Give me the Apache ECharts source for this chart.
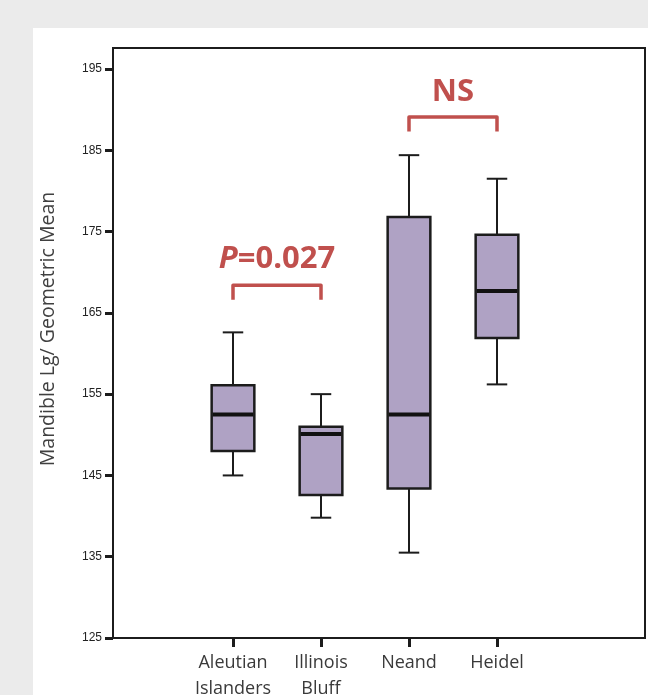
<!DOCTYPE html>
<html>
<head>
<meta charset="utf-8">
<script src="https://cdn.jsdelivr.net/npm/echarts@6/dist/echarts.min.js"></script>
<style>
html,body{margin:0;padding:0;background:#ebebeb;}
#c{width:648px;height:695px;}
</style>
</head>
<body>
<div id="c"></div>
<script>
// ---- data ----
const categories = ['Aleutian\nIslanders', 'Illinois\nBluff', 'Neand', 'Heidel'];
const whiskerLow  = [145.0, 139.8, 135.5, 156.2];
const quartile1   = [148.0, 142.6, 143.4, 161.9];
const medians     = [152.5, 150.1, 152.5, 167.7];
const quartile3   = [156.1, 151.0, 176.8, 174.6];
const whiskerHigh = [162.6, 155.0, 184.4, 181.5];
const yTicks = [125, 135, 145, 155, 165, 175, 185, 195];
const yTitle = 'Mandible Lg/ Geometric Mean';
// comparisons between groups
const compFrom   = [0, 2];
const compTo     = [1, 3];
const compTop    = [168.4, 189.1];
const compBottom = [166.6, 187.3];
const compLabel  = ['{i|P}=0.027', 'NS'];
const compLabelY = [171.6, 192.2];

const boxData = categories.map((c, i) => [i, whiskerLow[i], quartile1[i], medians[i], quartile3[i], whiskerHigh[i]]);

const chart = echarts.init(document.getElementById('c'), null, {renderer: 'canvas'});
const ink = '#1c1c1c';

function renderBox(params, api) {
  const idx = api.value(0);
  const px = v => api.coord([idx, v]);
  const x = px(api.value(3))[0];
  const yLow = px(api.value(1))[1];
  const yQ1 = px(api.value(2))[1];
  const yMed = px(api.value(3))[1];
  const yQ3 = px(api.value(4))[1];
  const yHigh = px(api.value(5))[1];
  const band = api.size([1, 0])[0];
  const bw = band * 0.485;
  const cap = bw * 0.48;
  const ls = {stroke: ink, lineWidth: 2};
  return {
    type: 'group',
    children: [
      {type: 'line', shape: {x1: x, y1: yHigh, x2: x, y2: yQ3}, style: ls},
      {type: 'line', shape: {x1: x, y1: yLow, x2: x, y2: yQ1}, style: ls},
      {type: 'line', shape: {x1: x - cap / 2, y1: yHigh, x2: x + cap / 2, y2: yHigh}, style: ls},
      {type: 'line', shape: {x1: x - cap / 2, y1: yLow, x2: x + cap / 2, y2: yLow}, style: ls},
      {type: 'rect', shape: {x: x - bw / 2, y: yQ3, width: bw, height: yQ1 - yQ3},
        style: {fill: '#afa2c4', stroke: ink, lineWidth: 2.5}},
      {type: 'line', shape: {x1: x - bw / 2 + 1, y1: yMed, x2: x + bw / 2 - 1, y2: yMed},
        style: {stroke: '#111', lineWidth: 4}}
    ]
  };
}

chart.setOption({
  backgroundColor: '#ebebeb',
  animation: false,
  grid: [
    {left: 113, top: 48, right: 3, bottom: 57, show: true, borderColor: ink, borderWidth: 2, backgroundColor: 'transparent', z: 1,
      outerBoundsMode: 'none', containLabel: false},
    {left: 189, right: 107, top: 69, bottom: 57, outerBoundsMode: 'none', containLabel: false}
  ],
  xAxis: [
    {gridIndex: 0, type: 'value', show: false, min: 0, max: 1},
    {gridIndex: 1, type: 'category', data: categories,
      axisLine: {show: false},
      axisTick: {show: true, alignWithLabel: true, length: 9, lineStyle: {color: ink, width: 3}},
      axisLabel: {interval: 0, color: '#3a3a3a', fontFamily: 'Open Sans', fontSize: 18, lineHeight: 26, margin: 12}}
  ],
  yAxis: [
    {gridIndex: 0, type: 'value', show: false, min: 0, max: 1},
    {gridIndex: 1, type: 'value', min: yTicks[0], max: yTicks[yTicks.length - 1], interval: 10,
      offset: 76,
      axisLine: {show: false},
      splitLine: {show: false},
      axisTick: {show: true, length: 8, lineStyle: {color: ink, width: 3}},
      axisLabel: {color: '#222', fontFamily: 'Liberation Sans Narrow, Liberation Sans, Arial', fontSize: 12, margin: 11}}
  ],
  series: [{
    type: 'custom',
    xAxisIndex: 1, yAxisIndex: 1,
    renderItem: renderBox,
    encode: {x: 0, y: [1, 2, 3, 4, 5]},
    data: boxData,
    z: 5
  }]
});

// annotations placed via the chart's own coordinate conversion
const red = '#c0504d';
const extra = [
  {type: 'rect', left: 33, top: 28, shape: {width: 615, height: 667}, style: {fill: '#ffffff'}, z: -10, silent: true},
  {type: 'text', x: 48, y: 329, rotation: Math.PI / 2, z: 10,
    style: {text: yTitle, fill: '#404040', font: '19.5px "Open Sans"', textAlign: 'center', textVerticalAlign: 'middle'}}
];
compFrom.forEach((f, k) => {
  const t = compTo[k];
  const a = chart.convertToPixel({seriesIndex: 0}, [f, compTop[k]]);
  const b = chart.convertToPixel({seriesIndex: 0}, [t, compBottom[k]]);
  const l = chart.convertToPixel({seriesIndex: 0}, [f, compLabelY[k]]);
  const r = chart.convertToPixel({seriesIndex: 0}, [t, compLabelY[k]]);
  extra.push({type: 'polyline', z: 10,
    shape: {points: [[a[0], b[1]], [a[0], a[1]], [b[0], a[1]], [b[0], b[1]]]},
    style: {stroke: red, lineWidth: 3.5, lineJoin: 'round', lineCap: 'butt', fill: null}});
  extra.push({type: 'text', z: 10, x: (l[0] + r[0]) / 2, y: l[1],
    style: {text: compLabel[k], fill: red, font: 'bold 31px "Open Sans"', textAlign: 'center', textVerticalAlign: 'middle',
      rich: {i: {fontStyle: 'italic', fontWeight: 'bold', fontSize: 31, fontFamily: 'Open Sans', fill: red}}}});
});
chart.setOption({graphic: extra});
</script>
</body>
</html>
